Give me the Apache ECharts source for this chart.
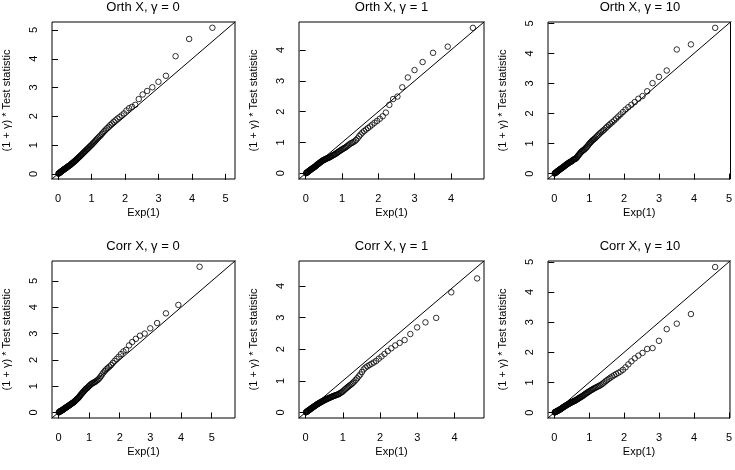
<!DOCTYPE html>
<html>
<head>
<meta charset="utf-8">
<script src="https://cdn.jsdelivr.net/npm/echarts@6/dist/echarts.min.js"></script>
<style>
html,body{margin:0;padding:0;background:#fff;}
#chart{width:735px;height:470px;}
</style>
</head>
<body>
<div id="chart"></div>
<script>
// Theoretical Exp(1) quantiles (x axis), shared by all panels
var expQuantiles = [0.010,0.020,0.030,0.041,0.051,0.062,0.073,0.083,0.094,0.105,
0.117,0.128,0.139,0.151,0.163,0.174,0.186,0.198,0.211,0.223,
0.236,0.248,0.261,0.274,0.288,0.301,0.315,0.329,0.342,0.357,
0.371,0.386,0.400,0.416,0.431,0.446,0.462,0.478,0.494,0.511,
0.528,0.545,0.562,0.580,0.598,0.616,0.635,0.654,0.673,0.693,
0.713,0.734,0.755,0.777,0.799,0.821,0.844,0.868,0.892,0.916,
0.942,0.968,0.994,1.022,1.050,1.079,1.109,1.139,1.171,1.204,
1.238,1.273,1.309,1.347,1.386,1.427,1.470,1.514,1.561,1.609,
1.661,1.715,1.772,1.833,1.897,1.966,2.040,2.120,2.207,2.303,
2.408,2.526,2.659,2.813,2.996,3.219,3.507,3.912,4.605];

var orthGamma0 = [0.005,0.012,0.02,0.03,0.04,0.05,0.06,0.07,0.08,0.09,
0.1,0.11,0.12,0.13,0.14,0.15,0.16,0.17,0.18,0.19,
0.2,0.21,0.22,0.23,0.245,0.26,0.27,0.28,0.29,0.3,
0.315,0.33,0.345,0.36,0.375,0.39,0.405,0.42,0.44,0.455,
0.47,0.49,0.51,0.53,0.55,0.57,0.59,0.61,0.63,0.655,
0.68,0.7,0.73,0.75,0.78,0.8,0.83,0.86,0.88,0.91,
0.94,0.97,1.0,1.03,1.07,1.1,1.14,1.18,1.22,1.26,
1.3,1.34,1.39,1.44,1.49,1.54,1.59,1.64,1.7,1.75,
1.81,1.86,1.92,1.97,2.03,2.1,2.2,2.28,2.33,2.4,
2.6,2.76,2.88,3.01,3.2,3.41,4.09,4.69,5.08];

var orthGamma1 = [0.005,0.012,0.02,0.03,0.04,0.05,0.06,0.07,0.08,0.09,
0.1,0.11,0.12,0.13,0.14,0.15,0.16,0.17,0.18,0.19,
0.2,0.21,0.22,0.235,0.25,0.265,0.28,0.29,0.3,0.315,
0.33,0.34,0.355,0.37,0.38,0.395,0.41,0.42,0.43,0.44,
0.45,0.46,0.47,0.48,0.49,0.5,0.51,0.52,0.53,0.545,
0.56,0.575,0.59,0.6,0.615,0.63,0.65,0.67,0.69,0.71,
0.73,0.75,0.77,0.79,0.81,0.83,0.85,0.88,0.91,0.94,
0.97,0.99,1.01,1.04,1.08,1.13,1.2,1.26,1.32,1.37,
1.42,1.47,1.52,1.58,1.64,1.7,1.77,1.85,1.97,2.22,
2.41,2.49,2.79,3.11,3.35,3.61,3.91,4.11,4.72];

var orthGamma10 = [0.005,0.012,0.02,0.03,0.04,0.05,0.06,0.07,0.08,0.09,
0.1,0.11,0.12,0.13,0.14,0.15,0.16,0.17,0.18,0.19,
0.2,0.21,0.22,0.235,0.25,0.26,0.27,0.285,0.3,0.31,
0.32,0.33,0.345,0.36,0.37,0.38,0.39,0.4,0.41,0.42,
0.45,0.46,0.47,0.48,0.49,0.5,0.52,0.55,0.58,0.61,
0.64,0.67,0.7,0.73,0.75,0.77,0.79,0.81,0.84,0.87,
0.9,0.94,0.98,1.02,1.05,1.09,1.12,1.15,1.18,1.22,
1.26,1.3,1.34,1.38,1.42,1.46,1.51,1.56,1.61,1.66,
1.71,1.77,1.83,1.9,1.97,2.05,2.13,2.21,2.29,2.38,
2.49,2.58,2.74,3.01,3.22,3.43,4.13,4.3,4.85];

var corrGamma0 = [0.005,0.01,0.02,0.03,0.04,0.05,0.055,0.06,0.07,0.075,
0.08,0.09,0.1,0.11,0.12,0.13,0.14,0.15,0.16,0.17,
0.18,0.19,0.2,0.21,0.22,0.23,0.24,0.25,0.265,0.28,
0.29,0.3,0.31,0.325,0.34,0.35,0.36,0.375,0.39,0.405,
0.42,0.44,0.46,0.48,0.5,0.52,0.54,0.56,0.59,0.62,
0.65,0.68,0.71,0.74,0.77,0.8,0.83,0.86,0.89,0.92,
0.93,0.97,1.0,1.03,1.06,1.09,1.11,1.13,1.15,1.17,
1.2,1.23,1.27,1.32,1.38,1.45,1.52,1.58,1.64,1.69,
1.74,1.8,1.88,1.96,2.04,2.12,2.22,2.32,2.38,2.55,
2.68,2.8,2.92,3.0,3.2,3.4,3.77,4.09,5.54];

var corrGamma1 = [0.005,0.012,0.02,0.03,0.04,0.05,0.06,0.07,0.075,0.085,
0.095,0.105,0.115,0.125,0.135,0.145,0.155,0.165,0.175,0.185,
0.195,0.205,0.215,0.225,0.24,0.25,0.26,0.27,0.28,0.29,
0.3,0.31,0.32,0.33,0.34,0.35,0.36,0.37,0.38,0.39,
0.4,0.41,0.42,0.43,0.44,0.45,0.46,0.47,0.48,0.49,
0.5,0.51,0.52,0.53,0.54,0.55,0.56,0.57,0.58,0.6,
0.62,0.64,0.66,0.69,0.72,0.75,0.78,0.81,0.84,0.87,
0.9,0.94,0.98,1.03,1.08,1.14,1.2,1.28,1.36,1.42,
1.46,1.5,1.54,1.58,1.63,1.7,1.77,1.85,1.94,2.03,
2.12,2.2,2.29,2.48,2.69,2.85,2.99,3.8,4.24];

var corrGamma10 = [0.005,0.01,0.02,0.025,0.03,0.04,0.045,0.05,0.06,0.065,
0.07,0.08,0.09,0.095,0.1,0.11,0.12,0.13,0.14,0.15,
0.16,0.17,0.18,0.19,0.2,0.21,0.22,0.23,0.24,0.25,
0.26,0.27,0.28,0.29,0.3,0.31,0.32,0.33,0.34,0.35,
0.36,0.37,0.38,0.39,0.4,0.41,0.42,0.44,0.45,0.47,
0.48,0.5,0.51,0.53,0.54,0.56,0.58,0.6,0.62,0.64,
0.66,0.68,0.7,0.72,0.74,0.76,0.78,0.8,0.82,0.84,
0.86,0.88,0.9,0.93,0.96,1.0,1.04,1.08,1.12,1.16,
1.2,1.24,1.28,1.32,1.36,1.42,1.5,1.6,1.7,1.8,
1.89,1.98,2.11,2.14,2.38,2.77,2.95,3.27,4.83];

var panelTitles = ['Orth X, γ = 0','Orth X, γ = 1','Orth X, γ = 10',
                   'Corr X, γ = 0','Corr X, γ = 1','Corr X, γ = 10'];
var panelSeries = [orthGamma0, orthGamma1, orthGamma10, corrGamma0, corrGamma1, corrGamma10];
// axis limits (same for x and y in each panel)
var panelLimits = [[-0.18,5.28],[-0.185,4.91],[-0.18,5.045],[-0.21,5.76],[-0.175,4.79],[-0.18,5.03]];
var panelTicks = [[0,1,2,3,4,5],[0,1,2,3,4],[0,1,2,3,4,5],[0,1,2,3,4,5],[0,1,2,3,4],[0,1,2,3,4,5]];
// y = x reference line, drawn across (and clipped to) each panel
var identityLine = [[-1, -1], [7, 7]];
var xName = 'Exp(1)';
var yName = '(1 + γ) * Test statistic';

var FONT = '"Liberation Sans", Arial, Helvetica, sans-serif';
var lefts = [51, 299, 548];
var widths = [184, 185, 184];
var tops = [22, 261];
var H = 157;

var grids = [], xAxes = [], yAxes = [], series = [], titles = [];
for (var p = 0; p < 6; p++) {
  var col = p % 3, row = Math.floor(p / 3);
  var lim = panelLimits[p];
  grids.push({left: lefts[col], top: tops[row], width: widths[col], height: H,
    show: true, borderColor: '#000', borderWidth: 1, backgroundColor: 'transparent', containLabel: false});
  titles.push({text: panelTitles[p], left: lefts[col] + widths[col] / 2, top: tops[row] - 21,
    textAlign: 'center', padding: 0,
    textStyle: {fontFamily: FONT, fontSize: 13, fontWeight: 'normal', color: '#000'}});
  var common = {
    type: 'value', gridIndex: p, min: lim[0], max: lim[1],
    splitLine: {show: false},
    axisLine: {show: false},
    axisTick: {show: true, inside: false, length: 6, customValues: panelTicks[p], lineStyle: {color: '#000', width: 1}},
    nameLocation: 'middle',
    nameTextStyle: {fontFamily: FONT, fontSize: 11, color: '#000'}
  };
  xAxes.push(Object.assign({}, common, {
    position: 'bottom', name: xName, nameGap: 28,
    axisLabel: {customValues: panelTicks[p], fontFamily: FONT, fontSize: 11, color: '#000', margin: 14}
  }));
  yAxes.push(Object.assign({}, common, {
    position: 'left', name: yName, nameGap: 40, nameRotate: 90,
    axisLabel: {customValues: panelTicks[p], fontFamily: FONT, fontSize: 11, color: '#000', margin: 13, rotate: 90}
  }));
  var pts = [];
  for (var i = 0; i < expQuantiles.length; i++) pts.push([expQuantiles[i], panelSeries[p][i]]);
  series.push({type: 'line', xAxisIndex: p, yAxisIndex: p, data: identityLine,
    symbol: 'none', showSymbol: false, silent: true, clip: true, lineStyle: {color: '#000', width: 1}, z: 1});
  series.push({type: 'scatter', xAxisIndex: p, yAxisIndex: p, data: pts, symbol: 'circle', symbolSize: 5.5,
    itemStyle: {color: 'rgba(255,255,255,0)', borderColor: '#000', borderWidth: 1}, z: 2});
}

var chart = echarts.init(document.getElementById('chart'), null, {renderer: 'canvas'});
chart.setOption({
  animation: false,
  backgroundColor: '#fff',
  title: titles,
  grid: grids,
  xAxis: xAxes,
  yAxis: yAxes,
  series: series
});
</script>
</body>
</html>
